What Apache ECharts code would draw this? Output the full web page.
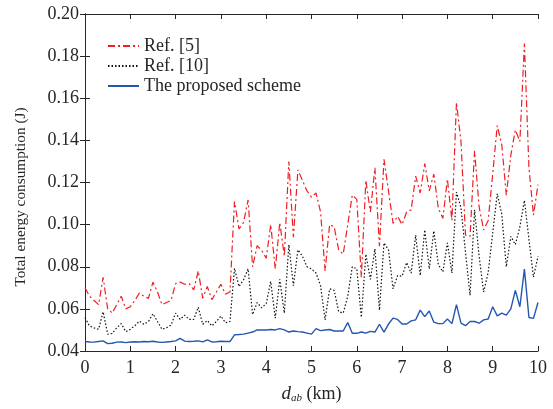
<!DOCTYPE html>
<html>
<head>
<meta charset="utf-8">
<script src="https://cdn.jsdelivr.net/npm/echarts@6/dist/echarts.min.js"></script>
<style>
  html, body { margin: 0; padding: 0; background: #fff; }
  #chart { width: 553px; height: 409px; }
</style>
</head>
<body>
<div id="chart"></div>
<script>
// distance grid, 0 .. 10 km in 0.1 km steps
const dist = Array.from({length: 101}, (_, i) => +(i / 10).toFixed(1))

const ref5 = [
  0.070, 0.066, 0.064, 0.062, 0.075, 0.060, 0.058, 0.062, 0.066, 0.060,
  0.061, 0.064, 0.0675, 0.066, 0.065, 0.0727, 0.068, 0.062, 0.063, 0.064,
  0.072, 0.0727, 0.0717, 0.072, 0.069, 0.078, 0.065, 0.0706, 0.0644, 0.068,
  0.0717, 0.067, 0.068, 0.111, 0.098, 0.101, 0.1117, 0.080, 0.090, 0.0878,
  0.084, 0.100, 0.079, 0.101, 0.085, 0.130, 0.094, 0.126, 0.121, 0.116,
  0.113, 0.115, 0.106, 0.078, 0.100, 0.099, 0.088, 0.086, 0.100, 0.114,
  0.112, 0.075, 0.121, 0.106, 0.127, 0.0898, 0.131, 0.116, 0.1006, 0.104,
  0.100, 0.106, 0.107, 0.123, 0.115, 0.129, 0.116, 0.124, 0.1077, 0.103,
  0.1216, 0.102, 0.158, 0.1395, 0.095, 0.0944, 0.135, 0.1084, 0.0975, 0.102,
  0.124, 0.147, 0.138, 0.114, 0.133, 0.145, 0.1395, 0.186, 0.127, 0.1045,
  0.119
]

const ref10 = [
  0.0558, 0.0519, 0.051, 0.0503, 0.0586, 0.048, 0.0483, 0.051, 0.053, 0.0492,
  0.0503, 0.052, 0.0542, 0.0527, 0.054, 0.0577, 0.054, 0.0503, 0.051, 0.0523,
  0.058, 0.055, 0.057, 0.055, 0.055, 0.0608, 0.0527, 0.0545, 0.0519, 0.054,
  0.0566, 0.0534, 0.054, 0.0792, 0.0706, 0.0738, 0.079, 0.0573, 0.063, 0.0605,
  0.0625, 0.073, 0.0556, 0.074, 0.058, 0.0905, 0.071, 0.088, 0.085, 0.080,
  0.079, 0.077, 0.071, 0.0548, 0.0695, 0.0688, 0.0587, 0.058, 0.066, 0.080,
  0.079, 0.056, 0.086, 0.074, 0.0885, 0.0594, 0.0913, 0.088, 0.0695, 0.0758,
  0.0755, 0.082, 0.077, 0.095, 0.0758, 0.0975, 0.079, 0.097, 0.081, 0.0776,
  0.0913, 0.077, 0.1154, 0.108, 0.0867, 0.0664, 0.107, 0.085, 0.068, 0.0773,
  0.096, 0.1147, 0.105, 0.080, 0.0944, 0.0905, 0.099, 0.1115, 0.093, 0.075,
  0.085
]

const proposed = [
  0.0445, 0.0443, 0.0442, 0.0445, 0.0448, 0.0435, 0.0437, 0.0442, 0.0443, 0.0440,
  0.0443, 0.0444, 0.0443, 0.0445, 0.0444, 0.0446, 0.0443, 0.0441, 0.0443, 0.0445,
  0.0448, 0.046, 0.0447, 0.0445, 0.0446, 0.0448, 0.0443, 0.0453, 0.0443, 0.0444,
  0.0446, 0.0445, 0.0445, 0.0477, 0.0478, 0.048, 0.0485, 0.049, 0.050, 0.050,
  0.050, 0.0502, 0.050, 0.0506, 0.050, 0.049, 0.0495, 0.0492, 0.049, 0.0485,
  0.048, 0.0506, 0.0497, 0.050, 0.0502, 0.0495, 0.0495, 0.0495, 0.0535, 0.0484,
  0.0484, 0.049, 0.0485, 0.0493, 0.049, 0.0527, 0.049, 0.0528, 0.0556, 0.055,
  0.0528, 0.0528, 0.0543, 0.0548, 0.0594, 0.0563, 0.059, 0.0537, 0.053, 0.053,
  0.0552, 0.053, 0.062, 0.0532, 0.052, 0.054, 0.054, 0.0532, 0.0548, 0.0552,
  0.061, 0.0567, 0.058, 0.057, 0.060, 0.0688, 0.061, 0.0789, 0.0559, 0.0555,
  0.063
]

const seriesNames = ['Ref. [5]', 'Ref. [10]', 'The proposed scheme']

const font = 'Liberation Serif, Times New Roman, serif'
const axisColor = '#262626'

function pairs(vals) {
    return dist.map((d, i) => [d, vals[i]])
}

let myChart = echarts.init(document.getElementById('chart'))

const boxAxis = {
    axisLine: {show: true, lineStyle: {color: axisColor, width: 1}},
    axisTick: {show: true, inside: true, length: 5, lineStyle: {color: axisColor}},
    splitLine: {show: false}
}

myChart.setOption({
    animation: false,
    grid: {left: 85, right: 15, top: 14, bottom: 52},
    legend: {
        orient: 'vertical',
        left: 102,
        top: 32,
        itemWidth: 31,
        itemHeight: 12,
        itemGap: 2,
        data: seriesNames,
        itemStyle: {opacity: 0},
        textStyle: {fontFamily: font, fontSize: 18, color: axisColor}
    },
    xAxis: [
        {
            type: 'value', min: 0, max: 10, interval: 1,
            ...boxAxis,
            axisLabel: {fontFamily: font, fontSize: 18, color: axisColor, margin: 8},
            name: '{i|d}{s|ab} (km)',
            nameLocation: 'middle',
            nameGap: 33,
            nameTextStyle: {
                fontFamily: font, fontSize: 18, color: axisColor,
                rich: {
                    i: {fontFamily: font, fontSize: 19, fontStyle: 'italic', color: axisColor},
                    s: {fontFamily: font, fontSize: 11, fontStyle: 'italic', color: axisColor, verticalAlign: 'bottom', padding: [9, 0, 0, 0]}
                }
            }
        },
        {
            type: 'value', min: 0, max: 10, interval: 1, position: 'top',
            ...boxAxis,
            axisLabel: {show: false}
        }
    ],
    yAxis: [
        {
            type: 'value', min: 0.04, max: 0.20, interval: 0.02,
            ...boxAxis,
            axisLabel: {
                fontFamily: font, fontSize: 18, color: axisColor, margin: 6,
                formatter: v => v.toFixed(2)
            },
            name: 'Total energy consumption (J)',
            nameLocation: 'middle',
            nameGap: 57,
            nameTextStyle: {fontFamily: font, fontSize: 15.3, color: axisColor, padding: [0, 29, 0, 0]}
        },
        {
            type: 'value', min: 0.04, max: 0.20, interval: 0.02, position: 'right',
            ...boxAxis,
            axisLabel: {show: false}
        }
    ],
    series: [
        {
            name: seriesNames[0],
            type: 'line',
            data: pairs(ref5),
            symbol: 'none',
            lineStyle: {color: '#f01e23', width: 1.2, type: [7, 3, 2, 3]},
            itemStyle: {color: '#f01e23'}
        },
        {
            name: seriesNames[1],
            type: 'line',
            data: pairs(ref10),
            symbol: 'none',
            lineStyle: {color: '#111111', width: 1.2, type: [1.5, 2]},
            itemStyle: {color: '#111111'}
        },
        {
            name: seriesNames[2],
            type: 'line',
            data: pairs(proposed),
            symbol: 'none',
            lineStyle: {color: '#2457b0', width: 1.4},
            itemStyle: {color: '#2457b0'}
        }
    ]
})
</script>
</body>
</html>
